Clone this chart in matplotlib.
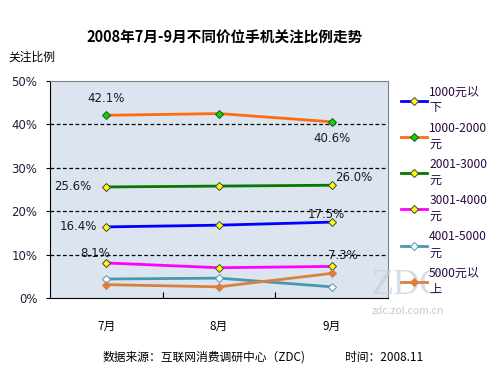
import matplotlib
matplotlib.use("Agg")
import matplotlib.pyplot as plt
from matplotlib.ticker import FixedLocator

plt.rcParams['font.family'] = ['Noto Sans CJK SC', 'DejaVu Sans']

months = ["7月", "8月", "9月"]
series_names = ["1000元以\n下", "1000-2000\n元", "2001-3000\n元", "3001-4000\n元", "4001-5000\n元", "5000元以\n上"]
v_below1000 = [16.4, 16.8, 17.5]
v_1000_2000 = [42.1, 42.5, 40.6]
v_2001_3000 = [25.6, 25.8, 26.0]
v_3001_4000 = [8.1, 7.0, 7.3]
v_4001_5000 = [4.4, 4.6, 2.6]
v_above5000 = [3.1, 2.6, 5.7]
yticks = [0, 10, 20, 30, 40, 50]

all_values = [v_below1000, v_1000_2000, v_2001_3000, v_3001_4000, v_4001_5000, v_above5000]
line_colors = ["#0000ff", "#ff6a10", "#007a00", "#ff00ff", "#4a98b0", "#d98040"]
marker_face = ["#ffff00", "#00dd00", "#ffff00", "#ffff00", "#ffffff", "#d98040"]
marker_edge = ["#404060", "#205020", "#404040", "#404040", "#4a98b0", "#d98040"]

fig = plt.figure(figsize=(5, 3.75), dpi=100)
ax = fig.add_axes([0.1, 0.205, 0.676, 0.579])
ax.set_facecolor("#dbe4ef")

# watermark
fig.text(0.815, 0.24, "ZDC", ha="center", va="center", fontsize=26, color="#c4cfdc",
         family="Liberation Serif", zorder=0.5, alpha=0.7)
fig.text(0.744, 0.17, "zdc.zol.com.cn", ha="left", va="center", fontsize=7.5, color="#c0c8d0")

x = list(range(len(months)))
handles = []
for vals, name, lc, mf, me in zip(all_values, series_names, line_colors, marker_face, marker_edge):
    h, = ax.plot(x, vals, color=lc, lw=2, marker="D", ms=4.2, mfc=mf, mec=me, mew=0.7,
                 label=name, zorder=3)
    handles.append(h)

ax.set_xlim(-0.5, 2.5)
ax.set_ylim(0, 50)
ax.yaxis.set_major_locator(FixedLocator(yticks))
ax.set_yticklabels([f"{t}%" for t in yticks], color="#2a1a3a", fontsize=8.5, family="DejaVu Sans")
ax.tick_params(axis="y", direction="out", length=3, pad=6)
for t in yticks[1:-1]:
    ax.axhline(t, color="black", lw=0.9, ls=(0, (3, 2)), zorder=2)

ax.set_xticks([0.5, 1.5])
ax.set_xticklabels([])
ax.tick_params(axis="x", direction="in", length=4)
for i, m in enumerate(months):
    ax.text(i, -5, m, ha="center", va="top", fontsize=8.5)

ax.spines["left"].set_color("black")
ax.spines["bottom"].set_color("black")
ax.spines["top"].set_color("#808080")
ax.spines["right"].set_color("#808080")

lab_kw = dict(fontsize=8.5, color="#1a1a2a", family="DejaVu Sans", zorder=4)
ax.text(0, v_1000_2000[0] + 2.3, f"{v_1000_2000[0]}%", ha="center", va="bottom", **lab_kw)
ax.text(2, v_1000_2000[2] - 2.3, f"{v_1000_2000[2]}%", ha="center", va="top", **lab_kw)
ax.text(-0.13, v_2001_3000[0], f"{v_2001_3000[0]}%", ha="right", va="center", **lab_kw)
ax.text(2.03, v_2001_3000[2] + 0.2, f"{v_2001_3000[2]:.1f}%", ha="left", va="bottom", **lab_kw)
ax.text(-0.08, v_below1000[0], f"{v_below1000[0]}%", ha="right", va="center", **lab_kw)
ax.text(1.95, v_below1000[2] + 0.3, f"{v_below1000[2]}%", ha="center", va="bottom", **lab_kw)
ax.text(-0.1, v_3001_4000[0] + 0.6, f"{v_3001_4000[0]}%", ha="center", va="bottom", **lab_kw)
ax.text(2.1, v_3001_4000[2] + 1.1, f"{v_3001_4000[2]}%", ha="center", va="bottom", **lab_kw)

leg = fig.legend(handles=handles, loc="upper left", bbox_to_anchor=(0.792, 0.785),
                 frameon=False, fontsize=8.7, handlelength=2.2, handletextpad=0.15,
                 labelspacing=0.6, borderaxespad=0)
for t in leg.get_texts():
    t.set_color("#2a0a40")
    t.set_linespacing(1.3)

fig.text(0.45, 0.9, "2008年7月-9月不同价位手机关注比例走势", ha="center", va="center",
         fontsize=10.5, fontweight="bold")
fig.text(0.017, 0.848, "关注比例", ha="left", va="center", fontsize=8.5)
fig.text(0.206, 0.048, "数据来源：互联网消费调研中心（ZDC)", ha="left", va="center", fontsize=8.5)
fig.text(0.69, 0.048, "时间：2008.11", ha="left", va="center", fontsize=8.5)

fig.savefig("out.png", dpi=100)
